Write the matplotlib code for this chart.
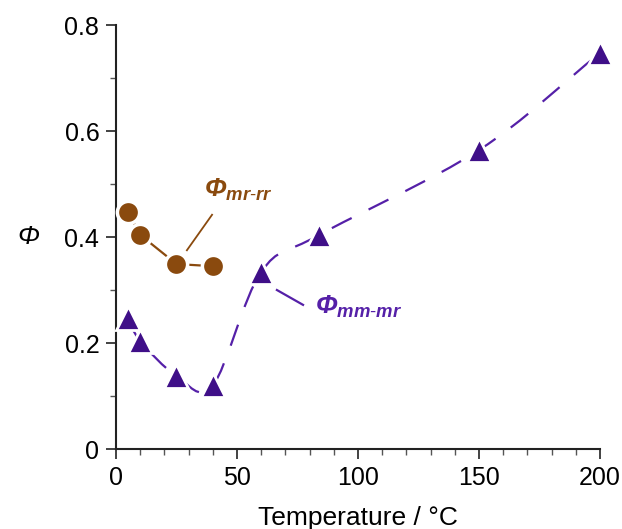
import numpy as np
import matplotlib
matplotlib.use("Agg")
import matplotlib.pyplot as plt
from matplotlib.ticker import MultipleLocator
from matplotlib.path import Path
from matplotlib.patches import PathPatch

plt.rcParams['font.family'] = ['Liberation Sans', 'DejaVu Sans']
plt.rcParams['mathtext.fontset'] = 'custom'
plt.rcParams['mathtext.bf'] = 'Liberation Sans:bold:italic'
plt.rcParams['mathtext.rm'] = 'Liberation Sans'
plt.rcParams['mathtext.it'] = 'Liberation Sans:italic'

# data
temp_rr = [5, 10, 25, 40]
phi_rr = [0.447, 0.404, 0.349, 0.345]

temp_mm = [5, 10, 25, 40, 60, 84, 150, 200]
phi_mm = [0.247, 0.204, 0.138, 0.120, 0.334, 0.404, 0.564, 0.747]

brown = '#8a4a0e'
purple = '#3f0f88'
purple_line = '#5520a8'


def smooth_path(x, y):
    # parametric Catmull-Rom curve through the points, as cubic Bezier pieces
    p = np.column_stack([x, y]).astype(float)
    n = len(p)
    tang = np.zeros_like(p)
    tang[0] = p[1] - p[0]
    tang[-1] = p[-1] - p[-2]
    for i in range(1, n - 1):
        tang[i] = (p[i + 1] - p[i - 1]) / 2
    verts = [p[0]]
    codes = [Path.MOVETO]
    for i in range(n - 1):
        verts += [p[i] + tang[i] / 3, p[i + 1] - tang[i + 1] / 3, p[i + 1]]
        codes += [Path.CURVE4] * 3
    return Path(verts, codes)


fig = plt.figure(figsize=(6.22, 5.29), dpi=100)
ax = fig.add_axes([0.1865, 0.1512, 0.778, 0.8015])

curve = PathPatch(smooth_path(temp_mm, phi_mm), facecolor='none',
                  edgecolor=purple_line, lw=1.6, linestyle=(0, (10, 8.5)), zorder=2)
ax.add_patch(curve)
ax.plot(temp_mm, phi_mm, ls='none', marker='^', ms=17, color=purple,
        mec='white', mew=2, zorder=3, clip_on=False)

ax.plot(temp_rr, phi_rr, color=brown, lw=1.6, zorder=2)
ax.plot(temp_rr, phi_rr, ls='none', marker='o', ms=16, color=brown,
        mec='white', mew=2.5, zorder=3, clip_on=False)

# labels with leader lines
ax.plot([29.3, 39.7], [0.375, 0.442], color=brown, lw=1.3)
ax.text(36.3, 0.489, r'$\mathbf{\Phi}_{\mathbf{mr\text{-}rr}}$', color=brown,
        fontsize=19, va='center', ha='left')
ax.plot([66.5, 77.3], [0.300, 0.272], color=purple_line, lw=1.6)
ax.text(82.3, 0.268, r'$\mathbf{\Phi}_{\mathbf{mm\text{-}mr}}$', color=purple_line,
        fontsize=19, va='center', ha='left')

ax.set_xlim(0, 200)
ax.set_ylim(0, 0.8)
ax.xaxis.set_major_locator(MultipleLocator(50))
ax.xaxis.set_minor_locator(MultipleLocator(10))
ax.yaxis.set_major_locator(MultipleLocator(0.2))
ax.yaxis.set_minor_locator(MultipleLocator(0.1))
ax.set_yticks([0, 0.2, 0.4, 0.6, 0.8])
ax.set_yticklabels(['0', '0.2', '0.4', '0.6', '0.8'])

for s in ['top', 'right']:
    ax.spines[s].set_visible(False)
for s in ['left', 'bottom']:
    ax.spines[s].set_linewidth(1.5)
    ax.spines[s].set_color('#222222')
ax.tick_params(which='major', direction='out', length=7, width=1.2,
               labelsize=18, color='#222222', pad=5)
ax.tick_params(which='minor', direction='out', length=4, width=1.0, color='#555555')

ax.set_xlabel('Temperature / °C', fontsize=19, labelpad=12)
ax.set_ylabel('Φ', fontsize=19, style='italic', rotation=0, labelpad=26, va='center')

fig.savefig('out.png', dpi=100)
